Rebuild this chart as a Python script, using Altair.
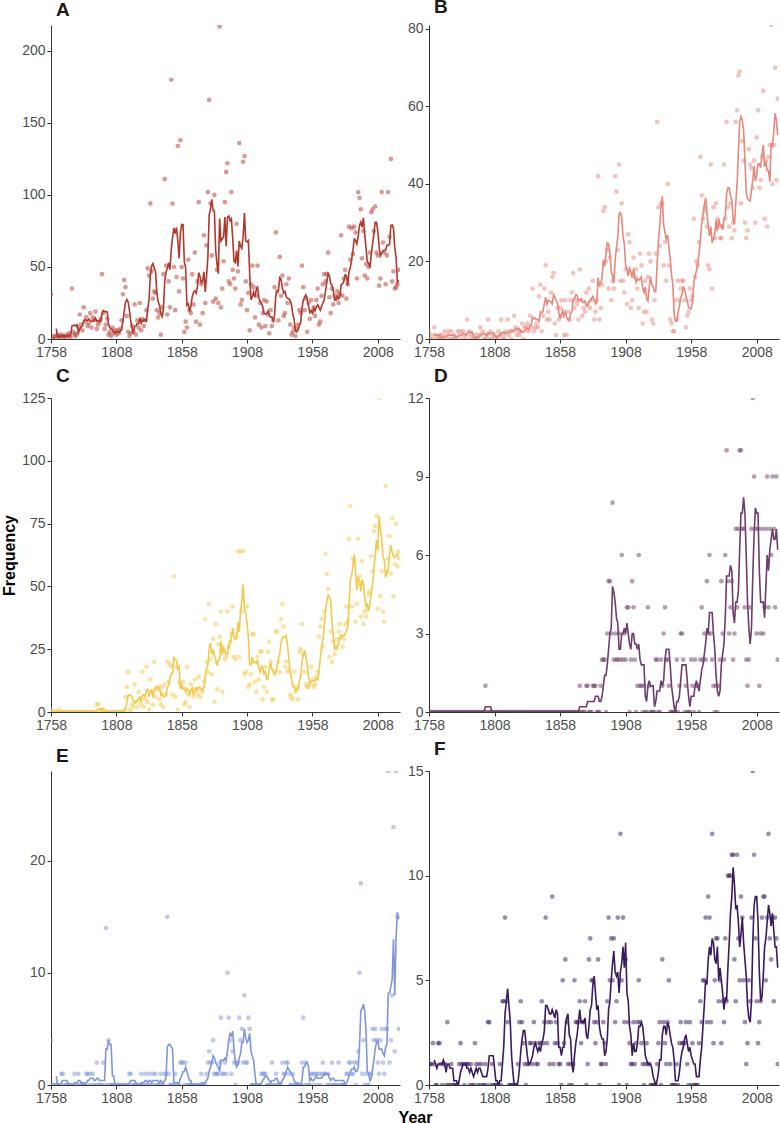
import altair as alt
import pandas as pd

FIRST_YEAR = 1758
X_TICKS = [1758, 1808, 1858, 1908, 1958, 2008]
X_DOMAIN = [1758, 2025]
FONT = "Liberation Sans"

# yearly counts 1758-2024, one list per panel (10 values per row)
a_values = [
    31, 1, 2, 0, 2, 3, 2, 1, 3, 2,
    2, 1, 3, 2, 4, 1, 35, 5, 3, 2,
    4, 8, 17, 10, 6, 22, 12, 15, 9, 11,
    18, 8, 15, 13, 19, 7, 10, 12, 14, 45,
    18, 7, 10, 14, 3, 5, 2, 8, 4, 6,
    3, 6, 4, 7, 13, 31, 41, 36, 16, 5,
    2, 4, 9, 5, 24, 3, 13, 8, 25, 6,
    14, 9, 13, 20, 49, 44, 94, 47, 28, 33,
    32, 20, 15, 18, 3, 22, 45, 111, 51, 17,
    40, 22, 180, 94, 50, 20, 43, 134, 33, 138,
    50, 42, 5, 12, 8, 55, 20, 18, 45, 24,
    60, 12, 40, 95, 10, 38, 18, 72, 25, 65,
    102, 166, 94, 58, 26, 100, 28, 48, 25, 217,
    22, 35, 54, 95, 116, 122, 40, 38, 102, 48,
    42, 35, 80, 47, 136, 24, 27, 123, 127, 40,
    20, 32, 6, 38, 51, 36, 15, 30, 51, 10,
    25, 8, 18, 27, 9, 26, 17, 4, 20, 9,
    13, 36, 74, 33, 13, 57, 30, 44, 16, 18,
    38, 25, 42, 10, 3, 5, 8, 2, 7, 10,
    20, 18, 51, 36, 20, 28, 5, 25, 14, 27,
    19, 22, 16, 27, 35, 10, 12, 30, 38, 45,
    40, 45, 60, 29, 18, 35, 24, 30, 28, 33,
    25, 31, 72, 30, 42, 48, 28, 38, 78, 55,
    77, 59, 78, 74, 42, 102, 98, 90, 56, 75,
    44, 52, 42, 50, 60, 88, 90, 75, 92, 60,
    58, 37, 42, 102, 67, 60, 38, 58, 102, 71,
    125, 40, 47, 35, 36, 38, 48,
]

b_values = [
    2, 0, 1, 0, 3, 1, 0, 0, 1, 0,
    1, 0, 2, 0, 1, 2, 0, 2, 0, 1,
    0, 0, 2, 1, 2, 0, 2, 1, 0, 5,
    1, 2, 0, 1, 0, 0, 1, 0, 1, 3,
    1, 2, 0, 0, 1, 5, 0, 2, 0, 1,
    1, 0, 0, 2, 1, 5, 0, 1, 0, 2,
    5, 1, 2, 0, 2, 6, 3, 1, 2, 1,
    2, 4, 0, 3, 3, 4, 2, 6, 3, 13,
    2, 3, 4, 3, 11, 14, 2, 6, 13, 19,
    5, 7, 5, 12, 16, 17, 4, 1, 8, 5,
    8, 10, 6, 1, 10, 1, 7, 5, 10, 12,
    17, 8, 10, 9, 5, 18, 10, 6, 8, 7,
    12, 9, 13, 8, 10, 15, 5, 7, 10, 42,
    5, 8, 14, 33, 34, 20, 23, 13, 21, 10,
    15, 13, 42, 38, 23, 45, 15, 35, 15, 12,
    18, 9, 27, 25, 8, 10, 21, 16, 18, 13,
    8, 22, 19, 4, 7, 15, 7, 16, 22, 20,
    5, 4, 10, 22, 56, 34, 24, 35, 35, 19,
    25, 15, 40, 19, 5, 4, 2, 2, 10, 5,
    15, 10, 13, 15, 15, 10, 3, 6, 7, 13,
    10, 11, 31, 16, 20, 19, 25, 47, 37, 31,
    33, 34, 29, 19, 18, 45, 13, 34, 26, 35,
    31, 29, 26, 26, 29, 45, 31, 56, 34, 29,
    35, 26, 30, 28, 56, 59, 68, 69, 35, 51,
    46, 30, 26, 28, 49, 45, 44, 39, 46, 30,
    52, 59, 39, 41, 47, 64, 31, 46, 29, 47,
    50, 81, 40, 50, 70, 41, 62,
]

c_values = [
    1, 0, 0, 0, 0, 0, 1, 0, 0, 0,
    0, 0, 0, 0, 0, 0, 0, 0, 0, 0,
    0, 0, 0, 0, 0, 0, 0, 0, 0, 0,
    0, 0, 0, 0, 0, 3, 3, 0, 0, 1,
    1, 0, 0, 0, 0, 0, 0, 0, 0, 0,
    0, 0, 0, 0, 0, 0, 1, 6, 10, 16,
    1, 0, 3, 2, 11, 4, 2, 8, 5, 3,
    16, 2, 5, 18, 4, 1, 13, 8, 3, 20,
    6, 9, 10, 5, 3, 10, 2, 11, 7, 20,
    12, 19, 18, 7, 54, 6, 18, 1, 12, 11,
    10, 12, 3, 4, 18, 7, 2, 11, 9, 6,
    13, 9, 7, 14, 6, 9, 8, 12, 37, 20,
    16, 43, 21, 15, 29, 4, 35, 9, 27, 30,
    40, 8, 24, 21, 22, 40, 26, 28, 31, 42,
    22, 21, 30, 64, 22, 64, 40, 64, 15, 16,
    42, 10, 11, 15, 31, 31, 12, 8, 22, 13,
    24, 24, 5, 10, 18, 8, 24, 28, 20, 5,
    5, 16, 32, 32, 20, 16, 37, 43, 34, 18,
    20, 16, 17, 7, 6, 5, 16, 8, 10, 5,
    24, 25, 35, 23, 16, 11, 10, 10, 11, 18,
    13, 10, 11, 14, 16, 30, 34, 37, 26, 40,
    63, 55, 49, 22, 32, 20, 28, 23, 26, 29,
    32, 35, 30, 26, 29, 35, 42, 36, 69, 82,
    42, 61, 60, 36, 43, 69, 54, 38, 60, 35,
    40, 38, 41, 47, 48, 62, 56, 72, 74, 78,
    41, 125, 46, 56, 40, 36, 90, 56, 61, 70,
    55, 77, 46, 59, 75, 58, 64,
]

d_values = [
    0, 0, 0, 0, 0, 0, 0, 0, 0, 0,
    0, 0, 0, 0, 0, 0, 0, 0, 0, 0,
    0, 0, 0, 0, 0, 0, 0, 0, 0, 0,
    0, 0, 0, 0, 0, 0, 0, 0, 0, 0,
    0, 0, 0, 1, 0, 0, 0, 0, 0, 0,
    0, 0, 0, 0, 0, 0, 0, 0, 0, 0,
    0, 0, 0, 0, 0, 0, 0, 0, 0, 0,
    0, 0, 0, 0, 0, 0, 0, 0, 0, 0,
    0, 0, 0, 0, 0, 0, 0, 0, 0, 0,
    0, 0, 0, 0, 0, 0, 0, 0, 0, 0,
    0, 0, 0, 0, 0, 0, 0, 0, 0, 0,
    0, 0, 0, 0, 0, 1, 0, 0, 0, 0,
    1, 1, 0, 0, 0, 1, 1, 1, 0, 0,
    0, 1, 2, 2, 2, 0, 3, 5, 5, 3,
    8, 2, 3, 2, 2, 3, 2, 6, 2, 3,
    2, 4, 4, 0, 2, 5, 4, 2, 0, 1,
    6, 1, 1, 0, 1, 0, 0, 4, 1, 0,
    0, 0, 0, 2, 2, 0, 0, 2, 1, 3,
    4, 2, 2, 1, 0, 0, 0, 0, 0, 2,
    0, 1, 3, 3, 2, 0, 1, 0, 0, 0,
    2, 1, 0, 2, 1, 1, 0, 2, 4, 2,
    3, 2, 5, 3, 6, 3, 2, 1, 0, 1,
    0, 1, 2, 5, 3, 2, 6, 10, 5, 3,
    4, 5, 2, 3, 7, 4, 7, 10, 10, 7,
    7, 4, 2, 1, 2, 4, 7, 12, 9, 7,
    3, 7, 1, 3, 7, 3, 4, 7, 9, 4,
    7, 6, 9, 7, 4, 9, 2,
]

e_values = [
    4, 0, 0, 0, 0, 0, 0, 0, 1, 1,
    0, 0, 0, 0, 0, 0, 0, 0, 1, 0,
    0, 1, 0, 0, 0, 0, 0, 1, 1, 0,
    1, 0, 1, 0, 0, 2, 0, 0, 0, 0,
    2, 0, 14, 0, 4, 0, 0, 0, 0, 0,
    0, 0, 0, 0, 0, 0, 0, 0, 0, 0,
    1, 1, 0, 0, 0, 0, 0, 0, 0, 1,
    0, 0, 1, 0, 0, 1, 0, 0, 1, 0,
    1, 0, 0, 0, 1, 0, 0, 1, 1, 15,
    1, 0, 0, 0, 0, 1, 0, 0, 0, 2,
    2, 2, 0, 2, 0, 0, 0, 0, 0, 0,
    0, 0, 0, 0, 0, 1, 0, 0, 0, 1,
    2, 3, 2, 2, 4, 1, 1, 1, 1, 2,
    6, 1, 1, 2, 1, 10, 6, 4, 1, 3,
    2, 0, 2, 2, 6, 4, 5, 2, 8, 2,
    2, 6, 5, 0, 0, 0, 0, 0, 0, 0,
    0, 1, 1, 1, 1, 0, 0, 0, 0, 2,
    0, 0, 1, 0, 0, 0, 0, 2, 1, 1,
    2, 2, 1, 0, 0, 1, 0, 0, 0, 0,
    0, 0, 2, 6, 0, 2, 0, 0, 0, 1,
    1, 0, 1, 1, 0, 1, 0, 1, 2, 1,
    1, 0, 1, 0, 0, 2, 0, 0, 0, 0,
    2, 0, 0, 0, 0, 0, 1, 1, 2, 2,
    1, 1, 2, 0, 2, 3, 10, 18, 1, 4,
    0, 1, 0, 0, 1, 1, 5, 4, 5, 4,
    2, 1, 4, 5, 2, 1, 5, 5, 28, 2,
    4, 8, 23, 3, 28, 15, 5,
]

f_values = [
    1, 1, 1, 2, 1, 0, 0, 2, 2, 1,
    0, 1, 1, 0, 3, 0, 0, 1, 0, 0,
    0, 0, 0, 1, 2, 1, 1, 0, 1, 1,
    1, 0, 1, 0, 0, 2, 1, 0, 1, 0,
    1, 0, 0, 1, 0, 3, 3, 0, 1, 0,
    0, 0, 0, 0, 1, 0, 4, 4, 8, 4,
    3, 0, 0, 0, 0, 0, 0, 0, 1, 3,
    4, 3, 2, 1, 0, 1, 1, 2, 2, 1,
    3, 2, 1, 1, 2, 2, 4, 2, 3, 8,
    2, 3, 1, 3, 9, 1, 2, 3, 2, 1,
    1, 0, 5, 2, 6, 3, 1, 0, 1, 0,
    1, 5, 3, 3, 3, 4, 2, 3, 3, 4,
    0, 1, 6, 7, 5, 5, 3, 2, 3, 6,
    0, 1, 1, 3, 2, 1, 4, 8, 5, 7,
    5, 7, 3, 4, 8, 0, 12, 5, 8, 3,
    6, 0, 3, 2, 1, 1, 3, 1, 2, 3,
    5, 3, 2, 1, 0, 1, 2, 1, 1, 0,
    0, 0, 0, 0, 1, 2, 3, 0, 6, 3,
    2, 1, 3, 5, 1, 0, 0, 0, 0, 1,
    0, 2, 3, 2, 2, 2, 3, 1, 0, 3,
    0, 2, 0, 0, 0, 0, 2, 4, 3, 5,
    5, 8, 3, 9, 8, 3, 12, 2, 5, 7,
    7, 4, 5, 2, 4, 3, 7, 4, 10, 10,
    10, 11, 11, 6, 4, 11, 7, 5, 9, 8,
    5, 3, 1, 2, 5, 4, 8, 15, 11, 7,
    4, 2, 3, 4, 8, 9, 9, 5, 8, 12,
    7, 6, 8, 4, 8, 7, 1,
]

a_yticks = [0, 50, 100, 150, 200]
b_yticks = [0, 20, 40, 60, 80]
c_yticks = [0, 25, 50, 75, 100, 125]
d_yticks = [0, 3, 6, 9, 12]
e_yticks = [0, 10, 20]
f_yticks = [0, 5, 10, 15]

LEFT_W, RIGHT_W, H = 349, 350, 314


def axis_common():
    return dict(
        labelFont=FONT, labelFontSize=14, labelColor="#4d4d4d",
        labelPadding=2, labelFlush=False, labelOverlap=False,
        domainColor="#333333", domainWidth=1,
        tickColor="#333333", tickSize=4, tickWidth=1, grid=False,
    )


def panel(values, color, letter, ymax, yticks, width, ytitle=False, xtitle=False):
    years = list(range(FIRST_YEAR, FIRST_YEAR + len(values)))
    df = pd.DataFrame({"year": years, "value": values})

    if xtitle:
        xaxis = alt.Axis(values=X_TICKS, format="d", title="Year",
                         titleX=-14, titleY=24, titleBaseline="top",
                         titleAlign="center", titleFont=FONT, titleFontSize=16,
                         titleFontWeight="bold", titleColor="#000000",
                         **axis_common())
    else:
        xaxis = alt.Axis(values=X_TICKS, format="d", title=None, **axis_common())
    if ytitle:
        yaxis = alt.Axis(values=yticks, title="Frequency", titleAngle=270,
                         titleX=-50, titleY=H / 2, titleBaseline="top",
                         titleAlign="center", titleFont=FONT, titleFontSize=16,
                         titleFontWeight="bold", titleColor="#000000",
                         **axis_common())
    else:
        yaxis = alt.Axis(values=yticks, title=None, **axis_common())

    x = alt.X("year:Q", scale=alt.Scale(domain=X_DOMAIN, nice=False, zero=False), axis=xaxis)
    y = alt.Y("value:Q", scale=alt.Scale(domain=[0, ymax], nice=False), axis=yaxis)

    base = alt.Chart(df)
    pts = base.mark_circle(size=22, opacity=0.5, color=color, clip=True).encode(x=x, y=y)
    line = (
        base.transform_window(ma="mean(value)", n="count()", frame=[-4, 0],
                              sort=[alt.SortField("year", order="ascending")])
        .transform_filter("datum.n == 5")
        .mark_line(color=color, strokeWidth=1.6, clip=True)
        .encode(x=alt.X("year:Q"), y=alt.Y("ma:Q"))
    )
    return alt.layer(pts, line).properties(
        width=width, height=H,
        title=alt.TitleParams(text=letter, anchor="start", frame="group", font=FONT,
                              fontSize=19, fontWeight="bold", color="#1a1a1a",
                              dx=5, offset=-10, baseline="alphabetic"),
    )


pa = panel(a_values, "#B2382C", "A", 218, a_yticks, LEFT_W)
pb = panel(b_values, "#E8877B", "B", 81, b_yticks, RIGHT_W)
pc = panel(c_values, "#F2C94C", "C", 125, c_yticks, LEFT_W, ytitle=True)
pd_ = panel(d_values, "#6E3D6C", "D", 12, d_yticks, RIGHT_W)
pe = panel(e_values, "#7F96DC", "E", 28, e_yticks, LEFT_W)
pf = panel(f_values, "#3A1B5F", "F", 15, f_yticks, RIGHT_W, xtitle=True)

chart = (
    alt.concat(pa, pb, pc, pd_, pe, pf, columns=2,
               spacing={"row": 59, "column": 29}, bounds="flush")
    .properties(padding={"left": 0, "top": -3, "right": 0, "bottom": 0}, background="white")
    .configure_view(stroke="transparent")
)

chart.save("out.html", embed_options={"renderer": "svg", "actions": False})
